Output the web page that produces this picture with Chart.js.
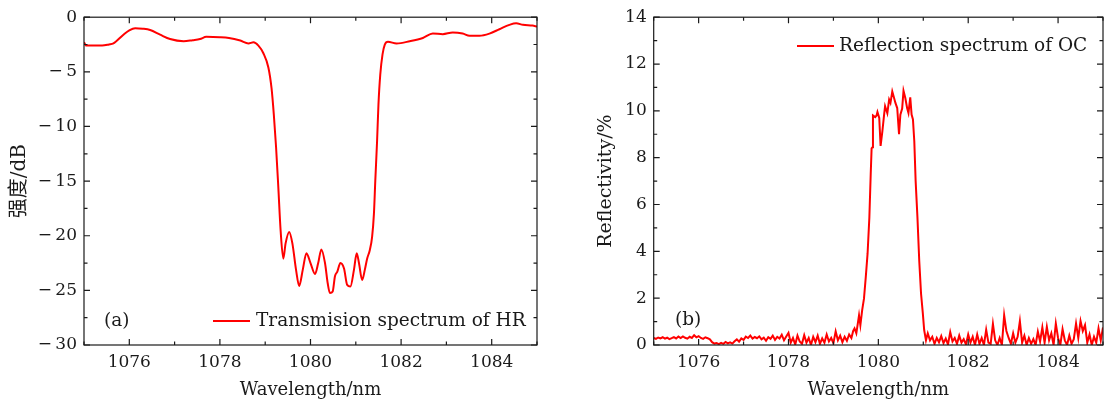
<!DOCTYPE html>
<html><head><meta charset="utf-8">
<script src="https://cdn.jsdelivr.net/npm/chart.js@4.4.1/dist/chart.umd.min.js"></script>
<style>
html,body{margin:0;padding:0;background:#fff;overflow:hidden;width:1104px;height:405px;position:relative;}
#ca{position:absolute;left:0;top:0;}
#cb{position:absolute;left:560px;top:0;}
</style></head><body>
<canvas id="ca" width="552" height="405"></canvas>
<canvas id="cb" width="550" height="405"></canvas>
<script>
// ---------- Panel (a): transmission spectrum of HR ----------
const wlA = [1075.00,1075.05,1075.40,1075.55,1075.65,1075.87,1076.00,1076.13,1076.30,1076.46,1076.68,1076.90,1077.20,1077.40,1077.56,1077.70,1078.00,1078.20,1078.45,1078.63,1078.74,1078.85,1078.96,1079.07,1079.14,1079.19,1079.24,1079.29,1079.34,1079.40,1079.45,1079.53,1079.60,1079.68,1079.75,1079.83,1079.91,1080.00,1080.10,1080.17,1080.24,1080.32,1080.38,1080.43,1080.49,1080.54,1080.59,1080.66,1080.74,1080.81,1080.88,1080.96,1081.02,1081.07,1081.14,1081.20,1081.25,1081.31,1081.36,1081.40,1081.43,1081.47,1081.50,1081.54,1081.59,1081.64,1081.71,1081.90,1082.19,1082.48,1082.70,1082.92,1083.14,1083.36,1083.51,1083.73,1083.95,1084.17,1084.39,1084.54,1084.69,1084.90,1085.00];
const dbA = [-2.3,-2.6,-2.6,-2.5,-2.4,-1.6,-1.2,-1.0,-1.05,-1.17,-1.6,-2.0,-2.2,-2.1,-2.0,-1.8,-1.83,-1.9,-2.14,-2.4,-2.3,-2.6,-3.3,-4.6,-6.5,-8.9,-11.9,-15.6,-19.5,-22.1,-20.7,-19.65,-20.7,-23.1,-24.6,-23.1,-21.6,-22.5,-23.5,-22.5,-21.25,-22.5,-24.35,-25.25,-25.1,-23.7,-23.3,-22.5,-23.0,-24.5,-24.65,-23.1,-21.6,-22.5,-24.05,-23.1,-22.1,-21.3,-20.1,-18.0,-15.0,-11.3,-8.0,-5.25,-3.4,-2.5,-2.25,-2.4,-2.2,-1.9,-1.5,-1.55,-1.4,-1.5,-1.7,-1.7,-1.5,-1.1,-0.7,-0.55,-0.7,-0.77,-0.85];

// ---------- Panel (b): reflection spectrum of OC ----------
const wlB = [
1075.00,1075.05,1075.10,1075.15,1075.20,1075.25,1075.30,1075.35,1075.40,1075.45,1075.50,1075.55,1075.60,1075.65,1075.70,1075.75,1075.80,1075.85,1075.90,1075.95,
1076.00,1076.05,1076.10,1076.15,1076.20,1076.25,1076.30,1076.35,1076.40,1076.45,1076.50,1076.55,1076.60,1076.65,1076.70,1076.75,1076.80,1076.85,1076.90,1076.95,
1077.00,1077.05,1077.10,1077.15,1077.20,1077.25,1077.30,1077.35,1077.40,1077.45,1077.50,1077.55,1077.60,1077.65,1077.70,1077.75,1077.80,1077.85,1077.90,1077.95,
1078.00,1078.05,1078.10,1078.15,1078.20,1078.25,1078.30,1078.35,1078.40,1078.45,1078.50,1078.55,1078.60,1078.65,1078.70,1078.75,1078.80,1078.85,1078.90,1078.95,
1079.00,1079.05,1079.10,1079.15,1079.20,1079.25,1079.30,1079.35,1079.40,
1079.44,1079.47,1079.51,1079.57,1079.60,1079.64,1079.68,1079.72,1079.76,1079.80,1079.83,1079.85,1079.87,1079.88,1079.93,1079.96,1079.98,
1080.02,1080.05,1080.09,1080.13,1080.15,1080.20,1080.24,1080.27,1080.31,1080.35,1080.38,1080.42,1080.46,1080.49,1080.53,1080.56,1080.60,1080.64,1080.67,1080.71,1080.74,1080.77,1080.80,1080.83,1080.87,1080.91,1080.95,1080.99,
1081.02,1081.06,
1081.10,1081.15,1081.20,1081.25,1081.30,1081.35,1081.40,1081.45,1081.50,1081.55,1081.60,1081.65,1081.70,1081.75,1081.80,1081.85,1081.90,1081.95,
1082.00,1082.05,1082.10,1082.15,1082.20,1082.25,1082.30,1082.35,1082.40,1082.45,1082.50,1082.55,1082.60,1082.65,1082.70,1082.75,1082.80,1082.85,1082.90,1082.95,
1083.00,1083.05,1083.10,1083.15,1083.20,1083.25,1083.30,1083.35,1083.40,1083.45,1083.50,1083.55,1083.60,1083.65,1083.70,1083.75,1083.80,1083.85,1083.90,1083.95,
1084.00,1084.05,1084.10,1084.15,1084.20,1084.25,1084.30,1084.35,1084.40,1084.45,1084.50,1084.55,1084.60,1084.65,1084.70,1084.75,1084.80,1084.85,1084.90,1084.95,
1085.00,1085.05,1085.10];
const reflB = [
0.30,0.26,0.32,0.28,0.33,0.27,0.31,0.25,0.29,0.34,0.28,0.36,0.30,0.37,0.31,0.27,0.35,0.30,0.42,0.33,
0.38,0.30,0.26,0.33,0.29,0.24,0.12,0.06,0.08,0.04,0.09,0.05,0.13,0.07,0.11,0.06,0.16,0.24,0.14,0.28,
0.22,0.36,0.30,0.40,0.27,0.34,0.29,0.37,0.24,0.31,0.18,0.33,0.26,0.40,0.22,0.35,0.28,0.44,0.20,0.36,
0.52,0.10,0.30,0.02,0.40,0.15,0.05,0.42,0.10,0.30,0.00,0.35,0.12,0.40,0.05,0.28,0.10,0.45,0.15,0.30,
0.08,0.58,0.20,0.40,0.12,0.35,0.18,0.45,0.30,
0.60,0.71,0.50,1.27,0.85,1.49,1.98,2.90,3.90,5.45,7.29,8.40,8.45,9.80,9.73,9.80,9.95,
9.70,8.50,9.13,9.87,10.20,9.90,10.48,10.34,10.83,10.55,10.34,10.12,9.00,9.84,10.10,10.86,10.55,10.12,9.91,10.58,9.84,9.63,8.70,7.00,5.45,3.60,2.20,1.35,
0.64,0.20,
0.50,0.20,0.35,0.05,0.30,0.12,0.38,0.08,0.28,0.02,0.55,0.15,0.30,0.05,0.40,0.10,0.25,0.02,
0.45,0.10,0.35,0.00,0.45,0.05,0.30,0.00,0.65,0.10,0.05,0.90,0.20,0.00,0.30,0.00,1.27,0.60,0.30,0.05,
0.50,0.10,0.35,1.02,0.10,0.40,0.00,0.30,0.05,0.25,0.00,0.57,0.15,0.75,0.10,0.78,0.20,0.50,0.00,0.92,
0.30,0.00,0.68,0.20,0.00,0.40,0.05,0.25,0.92,0.30,1.03,0.60,0.85,0.10,0.45,0.00,0.35,0.10,0.71,0.20,
0.75,0.15,0.60];

const FONT = "'DejaVu Serif', 'Noto Sans CJK SC', serif";
const INK = '#1a1a1a';
const RED = '#ff0000';

function fmtNeg(v){ return v < 0 ? '\u2212\u2009' + Math.abs(v) : String(v); }

const framePlugin = {
  id: 'frame',
  afterDatasetsDraw(chart){
    const {ctx, chartArea:a, scales:{x, y}} = chart;
    ctx.save();
    ctx.strokeStyle = INK; ctx.lineWidth = 1.2;
    ctx.strokeRect(a.left, a.top, a.right - a.left, a.bottom - a.top);
    ctx.beginPath();
    x.ticks.forEach(t => {
      const p = x.getPixelForValue(t.value);
      const L = t.label ? 6 : 3.5;
      ctx.moveTo(p, a.bottom); ctx.lineTo(p, a.bottom - L);
      ctx.moveTo(p, a.top); ctx.lineTo(p, a.top + L);
    });
    y.ticks.forEach(t => {
      const p = y.getPixelForValue(t.value);
      const L = t.label ? 6 : 3.5;
      ctx.moveTo(a.left, p); ctx.lineTo(a.left + L, p);
      ctx.moveTo(a.right, p); ctx.lineTo(a.right - L, p);
    });
    ctx.stroke();
    ctx.restore();
  }
};

const notePlugin = {
  id: 'note',
  afterDraw(chart, args, o){
    const ctx = chart.ctx;
    const ds = chart.data.datasets[0];
    ctx.save();
    ctx.font = '18.5px ' + FONT;
    ctx.textBaseline = 'middle';
    ctx.fillStyle = INK;
    ctx.fillText(o.panel, o.px, o.py);
    ctx.strokeStyle = ds.borderColor; ctx.lineWidth = 2;
    ctx.beginPath(); ctx.moveTo(o.lx0, o.ly); ctx.lineTo(o.lx1, o.ly); ctx.stroke();
    ctx.fillText(ds.label, o.tx, o.ly);
    ctx.restore();
  }
};

function makeChart(id, cfg){
  return new Chart(document.getElementById(id), {
    type: 'line',
    data: { datasets: [{
      label: cfg.label,
      data: cfg.xs.map((x, i) => ({x, y: cfg.ys[i]})),
      borderColor: RED, borderWidth: 2, pointRadius: 0,
      cubicInterpolationMode: cfg.smooth ? 'monotone' : 'default',
      tension: 0, fill: false
    }]},
    options: {
      responsive: false, animation: false, parsing: true,
      layout: { padding: { left: 0, right: cfg.padRight, top: 15.5, bottom: 0 } },
      plugins: { legend: { display: false }, tooltip: { enabled: false }, note: cfg.note },
      scales: {
        x: {
          type: 'linear', min: 1075, max: 1085,
          grid: { display: false, drawTicks: false }, border: { display: false },
          ticks: { stepSize: 1, autoSkip: false, maxRotation: 0, padding: 7, color: INK,
                   font: { family: FONT, size: 17 },
                   callback: v => (v % 2 === 0 && v > 1075 && v < 1085) ? String(v) : '' },
          title: { display: true, text: 'Wavelength/nm', color: INK,
                   font: { family: FONT, size: 18 }, padding: { top: 0, bottom: 4 } },
          afterFit: s => { s.height = 60; }
        },
        y: {
          type: 'linear', min: cfg.ymin, max: cfg.ymax,
          grid: { display: false, drawTicks: false }, border: { display: false },
          ticks: { stepSize: cfg.ystep, autoSkip: false, padding: 7, color: INK,
                   font: { family: FONT, size: 17 },
                   callback: v => (Math.abs(v % cfg.ylab) < 1e-9) ? fmtNeg(v) : '' },
          title: { display: true, text: cfg.ytitle, color: INK,
                   font: { family: FONT, size: cfg.ytitleSize }, padding: { top: cfg.ytitlePad, bottom: 0 } },
          afterFit: s => { s.width = cfg.yWidth; }
        }
      }
    },
    plugins: [framePlugin, notePlugin]
  });
}

makeChart('ca', {
  label: 'Transmision spectrum of HR', xs: wlA, ys: dbA, smooth: true,
  padRight: 15, ymin: -30, ymax: 0, ystep: 2.5, ylab: 5,
  ytitle: '强度/dB', ytitleSize: 20, ytitlePad: 8, yWidth: 84,
  note: { panel: '(a)', px: 104, py: 321, lx0: 213, lx1: 250, ly: 321, tx: 256 }
});
makeChart('cb', {
  label: 'Reflection spectrum of OC', xs: wlB, ys: reflB, smooth: false,
  padRight: 4, ymin: 0, ymax: 14, ystep: 1, ylab: 2,
  ytitle: 'Reflectivity/%', ytitleSize: 19, ytitlePad: 35, yWidth: 93.7,
  note: { panel: '(b)', px: 115, py: 320, lx0: 237, lx1: 274, ly: 46, tx: 279 }
});
</script>
</body></html>
